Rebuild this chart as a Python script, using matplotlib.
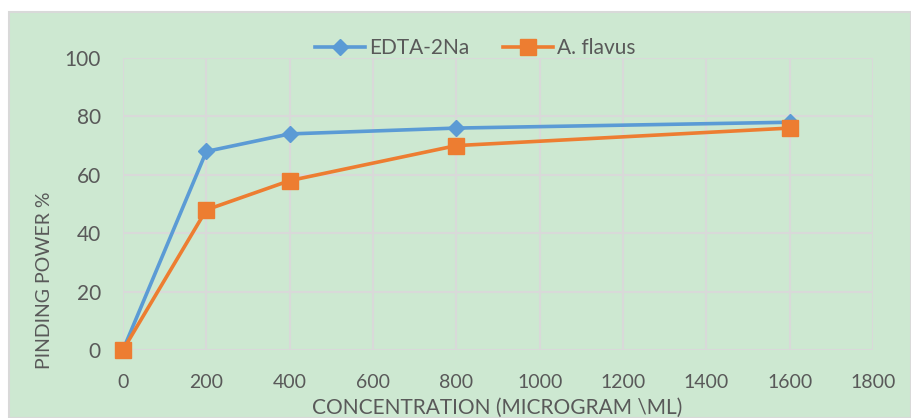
"""
Binding power of EDTA-2Na and A. flavus at increasing concentrations.
"""

import matplotlib
matplotlib.use('Agg')
import matplotlib.pyplot as plt
from matplotlib.patches import Rectangle


CONCENTRATION = [0, 200, 400, 800, 1600]
EDTA_2NA = [0, 68, 74, 76, 78]
A_FLAVUS = [0, 48, 58, 70, 76]

X_TICKS = list(range(0, 2000, 200))
Y_TICKS = list(range(0, 120, 20))

TEXT_COLOR = '#595959'
GRID_COLOR = '#D9D9D9'
BG_COLOR = '#CDE8D1'


def create_plot(output_file='out.png'):
    plt.rcParams['font.family'] = ['Lato', 'DejaVu Sans']

    fig = plt.figure(figsize=(9.11, 4.18), dpi=100)
    fig.patch.set_facecolor('white')

    # Chart panel background
    fig.patches.append(Rectangle(
        (9 / 911, 0), 1 - 9 / 911, (418 - 12) / 418,
        transform=fig.transFigure, facecolor=BG_COLOR,
        edgecolor=GRID_COLOR, linewidth=1.5, zorder=-1
    ))

    ax = fig.add_axes([123 / 911, 68 / 418, 750 / 911, 292 / 418])
    ax.set_facecolor('none')

    ax.plot(CONCENTRATION, EDTA_2NA, color='#5B9BD5', linewidth=2.6,
            marker='D', markersize=8, label='EDTA-2Na', clip_on=False,
            zorder=3)
    ax.plot(CONCENTRATION, A_FLAVUS, color='#ED7D31', linewidth=2.6,
            marker='s', markersize=11, label='A. flavus', clip_on=False,
            zorder=4)

    ax.set_xlim(0, 1800)
    ax.set_ylim(0, 100)
    ax.set_xticks(X_TICKS)
    ax.set_yticks(Y_TICKS)
    ax.grid(True, color=GRID_COLOR, linewidth=1.5)
    ax.set_axisbelow(True)
    for spine in ax.spines.values():
        spine.set_visible(False)

    ax.tick_params(length=0, colors=TEXT_COLOR)
    ax.tick_params(axis='x', pad=17, labelsize=14)
    ax.tick_params(axis='y', pad=16, labelsize=15)

    ax.set_xlabel('CONCENTRATION (MICROGRAM \\ML)', color=TEXT_COLOR,
                  fontsize=15)
    ax.set_ylabel('PINDING POWER %', color=TEXT_COLOR, fontsize=14)
    ax.xaxis.set_label_coords(0.4987, -0.199)
    ax.yaxis.set_label_coords(-0.104, 0.24)
    ax.xaxis.label.set_verticalalignment('center')
    ax.yaxis.label.set_verticalalignment('center')

    ax.legend(loc='lower center', bbox_to_anchor=(0.47, 0.97), ncol=2,
              frameon=False, fontsize=15, labelcolor=TEXT_COLOR,
              handlelength=2.4, columnspacing=1.6, handletextpad=0.2,
              borderaxespad=0)

    fig.savefig(output_file, dpi=100)


if __name__ == '__main__':
    create_plot()
